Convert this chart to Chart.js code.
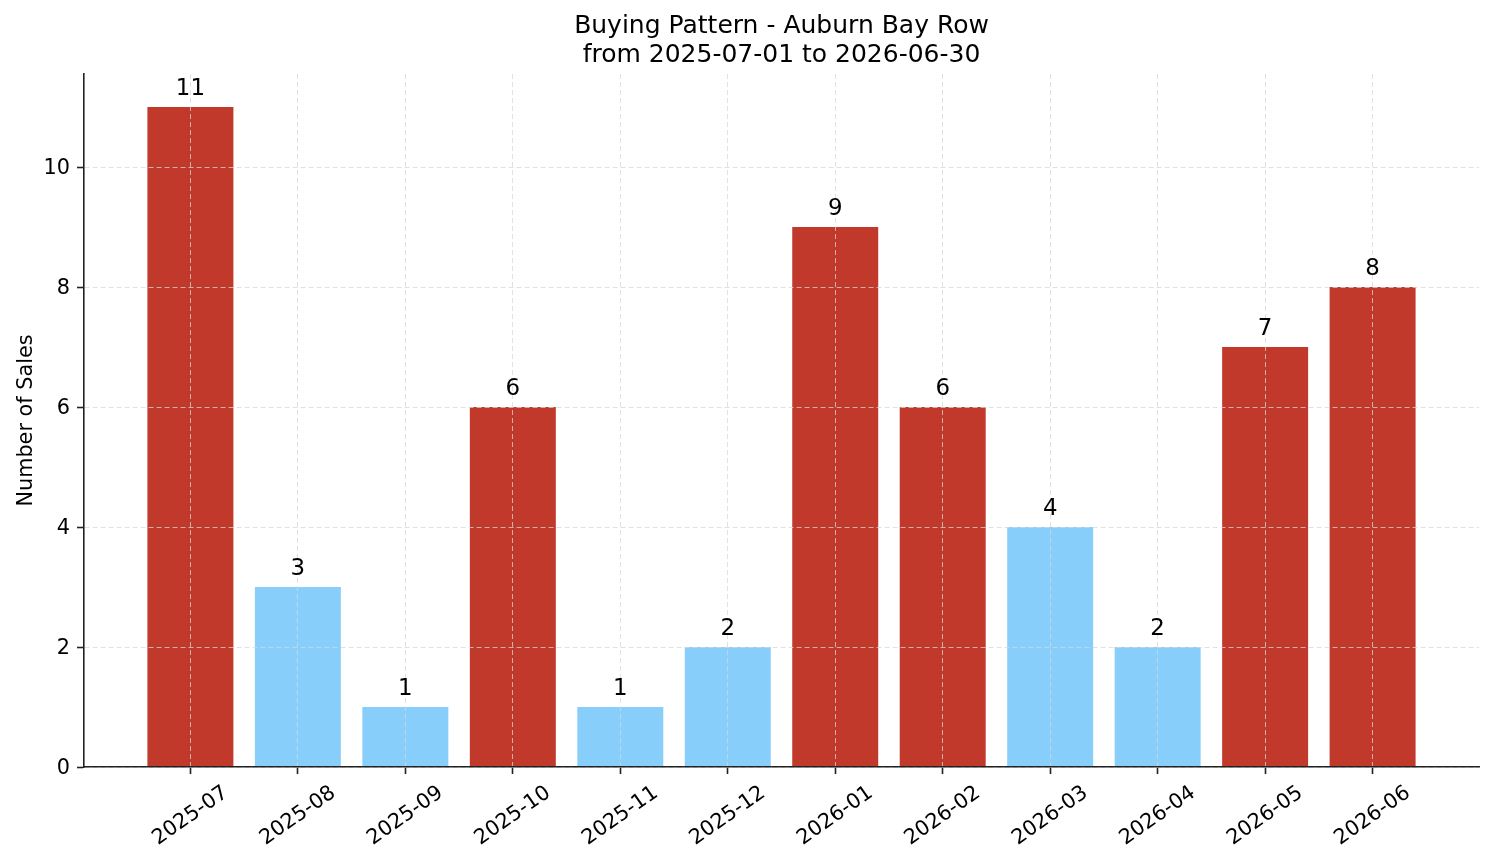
<!DOCTYPE html>
<html>
<head>
<meta charset="utf-8">
<script src="https://cdn.jsdelivr.net/npm/chart.js@4/dist/chart.umd.min.js"></script>
<style>
  html, body { margin: 0; padding: 0; background: #fff; }
  #wrap { width: 1494px; height: 863px; position: relative; }
</style>
</head>
<body>
<div id="wrap"><canvas id="c"></canvas></div>
<script>
// ---- data ----
const categories = ["2025-07","2025-08","2025-09","2025-10","2025-11","2025-12",
                    "2026-01","2026-02","2026-03","2026-04","2026-05","2026-06"];
const sales = [11, 3, 1, 6, 1, 2, 9, 6, 4, 2, 7, 8];
const yTicks = [0, 2, 4, 6, 8, 10];
const titleLines = ["Buying Pattern - Auburn Bay Row", "from 2025-07-01 to 2026-06-30"];
const yAxisTitle = "Number of Sales";

// ---- style ----
const FONT = '"DejaVu Sans", "Liberation Sans", sans-serif';
const TICK_PX = 20.8;
const VALUE_PX = 22.9;
const TITLE_PX = 25;
const RED = '#C0392B';
const BLUE = '#87CEFA';
const SPINE = '#222';
const GRID = 'rgba(215,215,215,0.75)';
const mean = sales.reduce((a, b) => a + b, 0) / sales.length;
const barColors = sales.map(v => v > mean ? RED : BLUE);

Chart.defaults.font.family = FONT;
Chart.defaults.color = '#000';

const overlay = {
  id: 'overlay',
  afterDraw(chart) {
    const ctx = chart.ctx;
    const area = chart.chartArea;
    const xs = chart.scales.x;
    // title
    ctx.save();
    ctx.fillStyle = '#000';
    ctx.font = TITLE_PX + 'px ' + FONT;
    ctx.textAlign = 'center';
    ctx.textBaseline = 'alphabetic';
    const cx = (area.left + area.right) / 2;
    ctx.fillText(titleLines[0], cx, 33);
    ctx.fillText(titleLines[1], cx, 62);
    ctx.restore();

    // rotated x tick labels, centred under ticks
    ctx.save();
    ctx.fillStyle = '#000';
    ctx.font = TICK_PX + 'px ' + FONT;
    const rot = 35 * Math.PI / 180;
    categories.forEach((lab, i) => {
      const px = xs.getPixelForValue(i);
      const w = ctx.measureText(lab).width;
      const h = TICK_PX * 1.16;
      const bh = w * Math.sin(rot) + h * Math.cos(rot);
      const cy = xs.top + 7 + 7 + bh / 2;
      ctx.save();
      ctx.translate(px, cy);
      ctx.rotate(-rot);
      ctx.textAlign = 'center';
      ctx.textBaseline = 'middle';
      ctx.fillText(lab, 0, 0);
      ctx.restore();
    });
    ctx.restore();

    // value labels
    ctx.save();
    ctx.fillStyle = '#000';
    ctx.font = VALUE_PX + 'px ' + FONT;
    ctx.textAlign = 'center';
    ctx.textBaseline = 'alphabetic';
    const meta = chart.getDatasetMeta(0);
    meta.data.forEach((bar, i) => {
      ctx.fillText(String(sales[i]), bar.x, bar.y - 12);
    });
    ctx.restore();
  }
};

new Chart(document.getElementById('c'), {
  type: 'bar',
  data: {
    datasets: [{
      data: sales.map((v, i) => ({ x: i, y: v })),
      backgroundColor: barColors,
      borderWidth: 0,
      barPercentage: 0.8,
      categoryPercentage: 1.0
    }]
  },
  options: {
    responsive: true,
    maintainAspectRatio: false,
    animation: false,
    layout: { padding: { top: 74, right: 15, bottom: 0, left: 0 } },
    plugins: {
      legend: { display: false },
      tooltip: { enabled: false },
      title: { display: false }
    },
    scales: {
      x: {
        type: 'linear',
        min: -0.99,
        max: 11.99,
        offset: false,
        afterBuildTicks(scale) { scale.ticks = categories.map((_, i) => ({ value: i })); },
        afterFit(scale) { scale.height = 96; },
        ticks: { display: false },
        grid: {
          offset: false,
          color: GRID, lineWidth: 1, z: 1,
          drawTicks: true, tickLength: 7, tickColor: SPINE, tickWidth: 1.6, tickBorderDash: []
        },
        border: { display: true, color: SPINE, width: 1.6, dash: [5, 3], z: 2 }
      },
      y: {
        type: 'linear',
        min: 0,
        max: 11.55,
        afterBuildTicks(scale) { scale.ticks = yTicks.map(v => ({ value: v })); },
        afterFit(scale) { scale.width = 84; },
        ticks: { font: { size: TICK_PX }, color: '#000', padding: 7, labelOffset: 2 },
        title: {
          display: true, text: yAxisTitle,
          font: { size: TICK_PX }, color: '#000',
          padding: { top: 14, bottom: 0 }
        },
        grid: {
          color: GRID, lineWidth: 1, z: 1,
          drawTicks: true, tickLength: 7, tickColor: SPINE, tickWidth: 1.6, tickBorderDash: []
        },
        border: { display: true, color: SPINE, width: 1.6, dash: [5, 3], z: 2 }
      }
    }
  },
  plugins: [overlay]
});
</script>
</body>
</html>
